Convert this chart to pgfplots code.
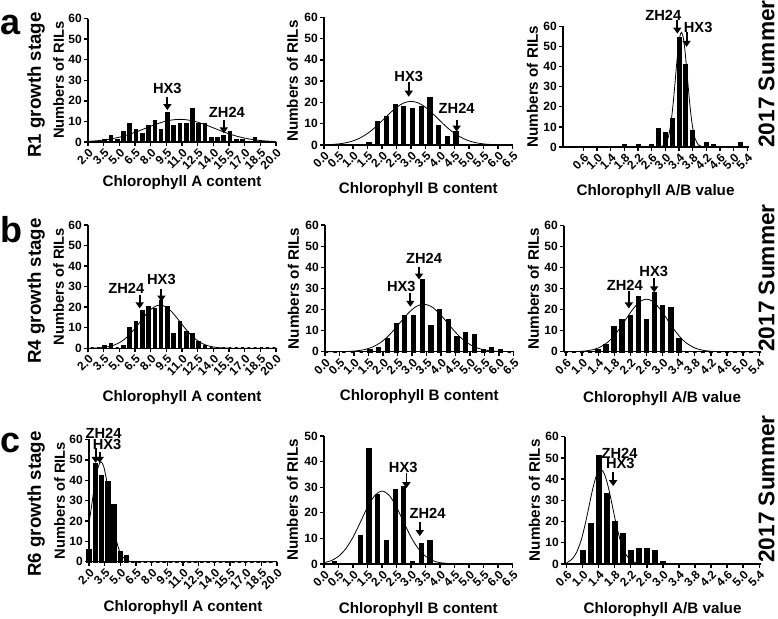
\documentclass[border=0pt]{standalone}
\usepackage{fontspec}
\setmainfont{Liberation Sans}
\usepackage{pgfplots}
\pgfplotsset{compat=1.18}
\usetikzlibrary{arrows.meta}

\tikzset{
  arr/.style={line width=1.4pt, -{Triangle[length=4.5pt,width=6pt]}},
  lab/.style={font=\fontsize{11}{12}\selectfont\bfseries, inner sep=0pt},
  big/.style={font=\fontsize{27}{27}\selectfont\bfseries, inner sep=0pt},
  stage/.style={rotate=90, font=\fontsize{14}{16}\selectfont\bfseries, inner sep=0pt},
  season/.style={rotate=90, font=\fontsize{17}{20}\selectfont\bfseries, inner sep=0pt},
}
\pgfplotsset{
  hist/.style={
    scale only axis, anchor=south west, clip=false,
    axis lines*=left, axis line style={-, line width=1pt},
    tick align=outside, major tick length=3pt,
    every tick/.style={black, line width=1pt},
    ymin=0, ymax=60, ytick={0,10,20,30,40,50,60},
    /pgf/number format/assume math mode=true,
    tick label style={font=\fontsize{9}{10}\selectfont\bfseries},
    xticklabel style={rotate=45, anchor=north east, inner sep=0.8pt},
    yticklabel style={inner sep=1.5pt},
    label style={font=\fontsize{11.4}{13}\selectfont\bfseries},
    ylabel={Numbers of RILs},
    ylabel style={at={(axis description cs:0,0.5)}, anchor=center},
    xlabel style={at={(axis description cs:0.5,0)}, anchor=center},
  },
  colA/.style={xmin=2, xmax=20, width=141pt,
    xtick={2,3.5,5,6.5,8,9.5,11,12.5,14,15.5,17,18.5,20},
    xticklabels={2.0,3.5,5.0,6.5,8.0,9.5,11.0,12.5,14.0,15.5,17.0,18.5,20.0},
    xlabel={Chlorophyll A content},
    ylabel style={yshift=22pt, font=\fontsize{11}{13}\selectfont\bfseries}},
  colB/.style={xmin=0, xmax=6.5, width=141.5pt,
    xtick={0,0.5,1,1.5,2,2.5,3,3.5,4,4.5,5,5.5,6,6.5},
    xticklabels={0.0,0.5,1.0,1.5,2.0,2.5,3.0,3.5,4.0,4.5,5.0,5.5,6.0,6.5},
    xlabel={Chlorophyll B content}, ylabel style={yshift=23.6pt}},
  colC/.style={xmax=5.42,
    xtick={0.6,1,1.4,1.8,2.2,2.6,3,3.4,3.8,4.2,4.6,5,5.4},
    xticklabels={0.6,1.0,1.4,1.8,2.2,2.6,3.0,3.4,3.8,4.2,4.6,5.0,5.4},
    xlabel={Chlorophyll A/B value}, ylabel style={yshift=23pt}},
  bars/.style={ybar, fill=black, draw=black, line width=1.4pt},
  fit/.style={smooth, black, line width=0.6pt, mark=none},
}

\begin{document}
\begin{tikzpicture}
\useasboundingbox (0,0) rectangle (583.5pt,463.5pt);

% row labels
\node[big] at (8.25pt,444.75pt) {a};
\node[big] at (8.25pt,291pt) {b};
\node[big] at (8.25pt,131.25pt) {c};
\node[stage] at (27pt,399.75pt) {R1 growth stage};
\node[stage] at (27pt,245.25pt) {R4 growth stage};
\node[stage] at (27pt,85.5pt) {R6 growth stage};
\node[season] at (575pt,408pt) {2017 Summer};
\node[season] at (575pt,255pt) {2017 Summer};
\node[season] at (575pt,96.75pt) {2017 Summer};

% ---------- row a ----------
\begin{axis}[hist, colA, at={(66pt,357pt)}, height=92.6pt, xlabel style={yshift=-30.75pt}]
\addplot[bars, bar width=2.1pt] coordinates {
 (2.4,0)(3.0,0)(3.6,1)(4.2,3)(4.8,1)(5.4,5)(6.0,9)(6.6,6)(7.2,4)(7.8,8)
 (8.4,10)(9.0,6)(9.6,14)(10.2,8)(10.8,9)(11.4,9)(12.0,16)(12.6,9)(13.2,9)(13.8,2)
 (14.4,2)(15.0,3)(15.6,5)(16.2,1)(16.8,1)(17.4,0)(18.0,2)(18.6,0)(19.2,0)(19.8,0)};
\addplot[fit] coordinates {
 (2,0.31)(3,0.67)(4,1.32)(5,2.35)(6,3.82)(7,5.67)(8,7.67)(9,9.48)(10,10.68)(11,10.98)
 (12,10.30)(13,8.81)(14,6.87)(15,4.89)(16,3.18)(17,1.88)(18,1.02)(19,0.50)(20,0.23)};
\draw[arr] (axis cs:9.6,22) -- (axis cs:9.6,15.5);
\node[lab] at (axis cs:9.6,25.8) {HX3};
\draw[arr] (axis cs:15.0,10.5) -- (axis cs:15.0,4.2);
\node[lab] at (axis cs:15.3,14.3) {ZH24};
\end{axis}

\begin{axis}[hist, colB, at={(243pt,354.75pt)}, height=95.8pt, xlabel style={yshift=-33.75pt}]
\addplot[bars, bar width=2.5pt] coordinates {
 (0.05,0)(0.35,0)(0.65,0)(0.95,0)(1.25,0)(1.55,1)(1.85,11)(2.15,13)(2.45,19)(2.75,18)
 (3.05,17)(3.35,18)(3.65,22)(3.95,9)(4.25,4)(4.55,6)(4.85,0)(5.15,0)(5.45,0)(5.75,0)
 (6.05,0)(6.35,0)};
\addplot[fit] coordinates {
 (0,0.10)(0.25,0.235)(0.5,0.51)(0.75,1.03)(1.0,1.93)(1.25,3.36)(1.5,5.43)(1.75,8.15)
 (2.0,11.36)(2.25,14.70)(2.5,17.69)(2.75,19.76)(3.0,20.5)(3.25,19.76)(3.5,17.69)
 (3.75,14.70)(4.0,11.36)(4.25,8.15)(4.5,5.43)(4.75,3.36)(5.0,1.93)(5.25,1.03)
 (5.5,0.51)(5.75,0.235)(6.0,0.10)(6.5,0.02)};
\draw[arr] (axis cs:2.92,29.8) -- (axis cs:2.92,22.7);
\node[lab] at (axis cs:2.92,32.3) {HX3};
\draw[arr] (axis cs:4.57,11.8) -- (axis cs:4.57,6.3);
\node[lab] at (axis cs:4.57,17.2) {ZH24};
\end{axis}

\begin{axis}[hist, colC, xmin=0, width=138.75pt, at={(422.25pt,353.25pt)}, height=90.5pt,
  xlabel style={yshift=-33.5pt}]
\addplot[bars, bar width=2.4pt] coordinates {
 (0.6,0)(0.8,0)(1.0,0)(1.2,0)(1.4,0)(1.6,0)(1.8,1)(2.0,0)(2.2,1)(2.4,0)(2.6,1)
 (2.8,9)(3.0,7)(3.2,14)(3.4,54)(3.6,41)(3.8,8)(4.0,0)(4.2,2)(4.4,1)(4.6,0)(4.8,0)
 (5.0,0)(5.2,2)(5.4,0)};
\addplot[fit] coordinates {
 (2.67,0)(2.87,0.16)(2.97,0.95)(3.07,4.14)(3.12,7.65)(3.17,13.0)(3.22,20.4)(3.27,29.6)
 (3.32,39.4)(3.37,48.4)(3.42,54.7)(3.47,57)(3.52,54.7)(3.57,48.4)(3.62,39.4)(3.67,29.6)
 (3.72,20.4)(3.77,13.0)(3.82,7.65)(3.87,4.14)(3.97,0.95)(4.07,0.16)(4.27,0)};
\draw[arr] (axis cs:3.35,63) -- (axis cs:3.35,56.4);
\node[lab] at (axis cs:2.94,65.2) {ZH24};
\draw[arr] (axis cs:3.62,57.2) -- (axis cs:3.62,49.8);
\node[lab] at (axis cs:3.96,59.4) {HX3};
\end{axis}

% ---------- row b ----------
\begin{axis}[hist, colA, at={(66pt,202.3pt)}, height=92.5pt, xlabel style={yshift=-36.75pt}]
\addplot[bars, bar width=2.1pt] coordinates {
 (2.4,0)(3.0,0)(3.6,1)(4.2,2)(4.8,0)(5.4,1)(6.0,10)(6.6,13)(7.2,18)(7.8,20)
 (8.4,19)(9.0,23)(9.6,20)(10.2,7)(10.8,13)(11.4,8)(12.0,7)(12.6,3)(13.2,1)(13.8,0)
 (14.4,0)(15.0,0)(15.6,0)(16.2,0)(16.8,0)(17.4,0)(18.0,0)(18.6,0)(19.2,0)(19.8,0)};
\addplot[fit] coordinates {
 (2,0.03)(3,0.19)(4,0.83)(4.5,1.55)(5,2.70)(5.5,4.42)(6,6.77)(6.5,9.66)(7,12.91)
 (7.5,16.13)(8,18.83)(8.5,20.55)(9,20.97)(9.5,20.0)(10,17.84)(10.5,14.87)(11,11.59)
 (11.5,8.44)(12,5.75)(12.5,3.66)(13,2.18)(13.5,1.21)(14,0.63)(14.5,0.31)(15,0.14)
 (16,0.02)(20,0)};
\draw[arr] (axis cs:6.95,25.9) -- (axis cs:6.95,19.4);
\node[lab] at (axis cs:5.67,29.2) {ZH24};
\draw[arr] (axis cs:9.03,28.8) -- (axis cs:9.03,22.7);
\node[lab] at (axis cs:9.03,33.4) {HX3};
\end{axis}

\begin{axis}[hist, colB, at={(243.75pt,199.7pt)}, height=95pt, xlabel style={yshift=-33.75pt}]
\addplot[bars, bar width=2.5pt] coordinates {
 (0.05,0)(0.35,0)(0.65,0)(0.95,0)(1.25,0)(1.55,1)(1.85,2)(2.15,6)(2.45,13)(2.75,17)
 (3.05,17)(3.35,34)(3.65,12)(3.95,20)(4.25,15)(4.55,7)(4.85,9)(5.15,8)(5.45,1)(5.75,2)
 (6.05,1)(6.35,0)};
\addplot[fit] coordinates {
 (0,0)(0.4,0.03)(0.9,0.22)(1.15,0.52)(1.4,1.15)(1.65,2.31)(1.9,4.22)(2.15,7.04)(2.4,10.70)
 (2.65,14.81)(2.9,18.68)(3.15,21.48)(3.4,22.5)(3.65,21.48)(3.9,18.68)(4.15,14.81)
 (4.4,10.70)(4.65,7.04)(4.9,4.22)(5.15,2.31)(5.4,1.15)(5.65,0.52)(5.9,0.22)(6.4,0.03)(6.5,0.02)};
\draw[arr] (axis cs:2.94,27.6) -- (axis cs:2.94,21.3);
\node[lab] at (axis cs:2.63,30.8) {HX3};
\draw[arr] (axis cs:3.24,40.3) -- (axis cs:3.24,34.2);
\node[lab] at (axis cs:3.41,44.2) {ZH24};
\end{axis}

\begin{axis}[hist, colC, xmin=0.55, width=147pt, at={(423pt,199.7pt)}, height=94.5pt,
  xlabel style={yshift=-35pt}]
\addplot[bars, bar width=2.9pt] coordinates {
 (0.6,0)(0.8,0)(1.0,0)(1.2,0)(1.4,1)(1.6,3)(1.8,12)(2.0,15)(2.2,17)(2.4,26)(2.6,15)
 (2.8,28)(3.0,22)(3.2,21)(3.4,6)(3.6,0)(3.8,0)(4.0,0)(4.2,0)(4.4,0)(4.6,0)(4.8,0)
 (5.0,0)(5.2,0)(5.4,0)};
\addplot[fit] coordinates {
 (0.6,0.02)(0.8,0.07)(1.0,0.23)(1.2,0.69)(1.4,1.79)(1.6,4.00)(1.7,5.67)(1.8,7.74)
 (1.9,10.19)(2.0,12.93)(2.1,15.82)(2.2,18.65)(2.3,21.2)(2.4,23.23)(2.5,24.55)(2.6,25)
 (2.7,24.55)(2.8,23.23)(2.9,21.2)(3.0,18.65)(3.1,15.82)(3.2,12.93)(3.3,10.19)(3.4,7.74)
 (3.5,5.67)(3.6,4.00)(3.8,1.79)(4.0,0.69)(4.2,0.23)(4.4,0.07)(4.6,0.02)(5.4,0)};
\draw[arr] (axis cs:2.16,28.9) -- (axis cs:2.16,20.6);
\node[lab] at (axis cs:2.06,31.5) {ZH24};
\draw[arr] (axis cs:2.79,35.2) -- (axis cs:2.79,28.3);
\node[lab] at (axis cs:2.78,38.4) {HX3};
\end{axis}

% ---------- row c ----------
\begin{axis}[hist, colA, at={(66.75pt,42.2pt)}, height=91.7pt, xlabel style={yshift=-34.5pt}]
\addplot[bars, bar width=2.7pt] coordinates {
 (2.0,6)(2.6,48)(3.2,42)(3.8,39)(4.4,28)(5.0,5)(5.6,3)(6.2,0)(6.8,0)(7.4,0)(8.0,0)
 (8.6,0)(9.2,0)(9.8,0)(10.4,0)(11.0,0)(11.6,0)(12.2,0)(12.8,0)(13.4,0)(14.0,0)(14.6,0)
 (15.2,0)(15.8,0)(16.4,0)(17.0,0)(17.6,0)(18.2,0)(18.8,0)(19.4,0)};
\addplot[fit] coordinates {
 (2.0,19.05)(2.15,23.99)(2.4,32.79)(2.65,40.99)(2.9,46.86)(3.15,49)(3.4,46.86)
 (3.65,40.99)(3.9,32.79)(4.15,23.99)(4.4,16.05)(4.65,9.82)(4.9,5.50)(5.15,2.81)
 (5.65,0.56)(6.15,0.08)(7,0)(20,0)};
\draw[arr] (axis cs:2.64,55.6) -- (axis cs:2.64,48.5);
\draw[arr] (axis cs:3.02,53.9) -- (axis cs:3.02,48.5);
\node[lab] at (axis cs:3.4,62.9) {ZH24};
\node[lab] at (axis cs:3.73,57.4) {HX3};
\end{axis}

\begin{axis}[hist, colB, at={(243pt,40.5pt)}, height=96pt, ymax=50, ytick={0,10,20,30,40,50},
  xlabel style={yshift=-34.5pt}]
\addplot[bars, bar width=2.5pt] coordinates {
 (0.05,0)(0.35,1)(0.65,0)(0.95,0)(1.25,11)(1.55,45)(1.85,27)(2.15,9)(2.45,29)(2.75,30)
 (3.05,1)(3.35,8)(3.65,9)(3.95,0)(4.25,0)(4.55,0)(4.85,0)(5.15,0)(5.45,0)(5.75,0)
 (6.05,0)(6.35,0)};
\addplot[fit] coordinates {
 (0,0.52)(0.25,1.33)(0.5,3.00)(0.75,5.97)(1.0,10.48)(1.25,16.24)(1.5,22.20)(1.75,26.77)
 (2.0,28.5)(2.25,26.77)(2.5,22.20)(2.75,16.24)(3.0,10.48)(3.25,5.97)(3.5,3.00)
 (3.75,1.33)(4.0,0.52)(4.5,0.055)(5,0)(6.5,0)};
\draw[arr] (axis cs:2.84,35.4) -- (axis cs:2.84,29.6);
\node[lab] at (axis cs:2.73,37.6) {HX3};
\draw[arr] (axis cs:3.30,16.5) -- (axis cs:3.30,10.9);
\node[lab] at (axis cs:3.57,19.6) {ZH24};
\end{axis}

\begin{axis}[hist, colC, xmin=0.56, width=146.25pt, at={(423.75pt,40.5pt)}, height=95.5pt,
  xlabel style={yshift=-34.5pt}]
\addplot[bars, bar width=2.9pt] coordinates {
 (0.6,0)(0.8,0)(1.0,6)(1.2,19)(1.4,51)(1.6,33)(1.8,20)(2.0,14)(2.2,6)(2.4,7)(2.6,7)
 (2.8,6)(3.0,1)(3.2,0)(3.4,0)(3.6,0)(3.8,0)(4.0,0)(4.2,0)(4.4,0)(4.6,0)(4.8,0)
 (5.0,0)(5.2,0)(5.4,0)};
\addplot[fit] coordinates {
 (0.6,0.68)(0.65,1.10)(0.75,2.62)(0.85,5.55)(0.95,10.49)(1.0,13.80)(1.05,17.65)
 (1.1,21.92)(1.15,26.45)(1.2,31.01)(1.25,35.31)(1.3,39.07)(1.35,42.0)(1.4,43.86)
 (1.45,44.5)(1.5,43.86)(1.55,42.0)(1.6,39.07)(1.65,35.31)(1.7,31.01)(1.75,26.45)
 (1.8,21.92)(1.85,17.65)(1.9,13.80)(1.95,10.49)(2.05,5.55)(2.15,2.62)(2.25,1.10)
 (2.35,0.41)(2.45,0.14)(2.65,0.01)(5.4,0)};
\draw[arr] (axis cs:1.76,43.5) -- (axis cs:1.76,36.7);
\node[lab] at (axis cs:1.92,52.1) {ZH24};
\node[lab] at (axis cs:1.94,47.3) {HX3};
\end{axis}
\end{tikzpicture}
\end{document}
